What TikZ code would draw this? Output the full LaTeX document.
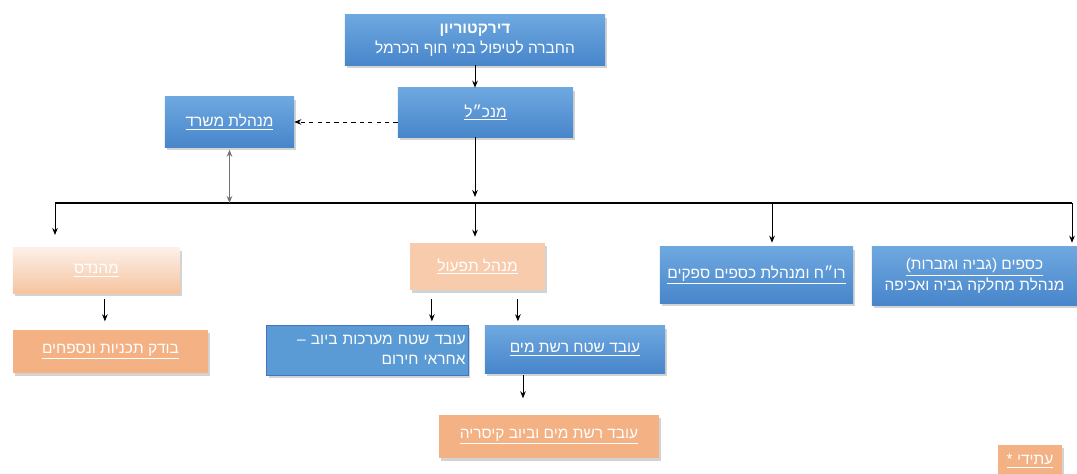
\documentclass[tikz,border=0pt]{standalone}
\usepackage{fontspec}
\setmainfont[Script=Hebrew]{Liberation Sans}
\TeXXeTstate=1
\usetikzlibrary{arrows.meta,shadows,positioning}
\definecolor{bluetop}{HTML}{6EA8E0}
\definecolor{bluebot}{HTML}{4886CB}
\definecolor{blueflat}{HTML}{5B9BD5}
\definecolor{blueline}{HTML}{4472C4}
\definecolor{peach}{HTML}{F8CBAD}
\definecolor{orange}{HTML}{F4B183}
\definecolor{paletop}{HTML}{FCF0E8}
\definecolor{palebot}{HTML}{F6C4A0}
\newcommand{\heb}[1]{\beginR#1\endR}
\newcommand{\uheb}[1]{\underline{\beginR#1\endR}}

\begin{document}
\begin{tikzpicture}[
		x=0.025cm, y=-0.025cm,
		box/.style={inner sep=2pt, text=white, align=center,
			font=\fontsize{11}{14.5}\selectfont,
			drop shadow={opacity=0.35, shadow xshift=0.5mm, shadow yshift=-0.7mm}},
		bluebox/.style={box, top color=bluetop, bottom color=bluebot},
		peachbox/.style={box, fill=peach},
		orangebox/.style={box, fill=orange},
		palebox/.style={box, top color=paletop, bottom color=palebot},
		arr/.style={-{Stealth[length=5pt, width=4pt]}, line width=0.6pt},
		darr/.style={{Stealth[length=5pt, width=4pt]}-{Stealth[length=5pt, width=4pt]}, line width=0.8pt, black!55},
	]
		\clip (0,0) rectangle (1077,473);
		\useasboundingbox (0,0) rectangle (1077,473);

		\node (dir) [bluebox, minimum width=6.5cm, minimum height=1.25cm] at (475,40)
			{\textbf{\heb{דירקטוריון}}\\\heb{החברה לטיפול במי חוף הכרמל}};
		\node (mankal) [bluebox, minimum width=4.375cm, minimum height=1.225cm] at (485.5,112.5) {\uheb{מנכ״ל}};
		\node (office) [bluebox, minimum width=3.225cm, minimum height=1.25cm] at (229.5,122) {\uheb{מנהלת משרד}};

		\node (eng) [palebox, minimum width=4.175cm, minimum height=1.125cm] at (96.5,270.5) {\uheb{מהנדס}};
		\node (ops) [peachbox, minimum width=3.375cm, minimum height=1.175cm] at (477.5,266.5) {\uheb{מנהל תפעול}};
		\node (cfo) [bluebox, minimum width=4.825cm, minimum height=1.4cm] at (756.5,275) {\uheb{רו״ח ומנהלת כספים ספקים}};
		\node (fin) [bluebox, minimum width=5.125cm, minimum height=1.45cm] at (974.5,276)
			{\uheb{כספים (גביה וגזברות)}\\\heb{מנהלת מחלקה גביה ואכיפה}};

		\node (checker) [orangebox, minimum width=4.875cm, minimum height=1.075cm] at (110.5,351.5) {\uheb{בודק תכניות ונספחים}};
		\node (sewer) [box, fill=blueflat, draw=blueline, align=right, text width=4.9cm, minimum height=1.25cm] at (367.5,350)
			{\heb{עובד שטח מערכות ביוב –}\\\heb{אחראי חירום}};
		\node (water) [bluebox, minimum width=4.5cm, minimum height=1.175cm] at (575,349.5) {\uheb{עובד שטח רשת מים}};
		\node (caesarea) [orangebox, minimum width=5.5cm, minimum height=1.075cm] at (549,436.5) {\uheb{עובד רשת מים וביוב קיסריה}};
		\node (future) [orangebox, minimum width=1.6cm, minimum height=1cm, text depth=8pt] at (1030,465) {\uheb{עתידי *}};

		% bus line
		\coordinate (busL) at (55,203);
		\coordinate (busR) at (1072,203);
		\coordinate (busC) at (772,203);
		\draw[line width=1.2pt] (busL) -- (busR);

		\draw[arr] (dir.south) -- (dir.south |- mankal.north);
		\draw[arr, dashed, line width=0.5pt] (office.east -| mankal.west) -- (office.east);
		\draw[darr, shorten <=0.6mm] (office.south) -- (office.south |- busL);
		\draw[arr, shorten >=1.5mm] (dir.south |- mankal.south) -- (dir.south |- busL);

		\draw[arr, shorten >=3.2mm] (busL) -- (busL |- eng.north);
		\draw[arr, shorten >=1.5mm] (dir.south |- busL) -- (dir.south |- ops.north);
		\draw[arr, shorten >=1mm] (busC) -- (busC |- cfo.north);
		\draw[arr, shorten >=1mm] (busR) -- (busR |- fin.north);

		\draw[arr, shorten <=1.5mm] ([xshift=0.21cm]eng.south) -- ++(0,28);
		\draw[arr, shorten <=2.25mm] ([xshift=-1.14cm]ops.south) -- ++(0,31);
		\draw[arr, shorten <=2.25mm] ([xshift=1.01cm]ops.south) -- ++(0,31);
		\draw[arr, shorten <=0.5mm] ([xshift=-1.3cm]water.south) -- ++(0,25);
	\end{tikzpicture}
\end{document}
